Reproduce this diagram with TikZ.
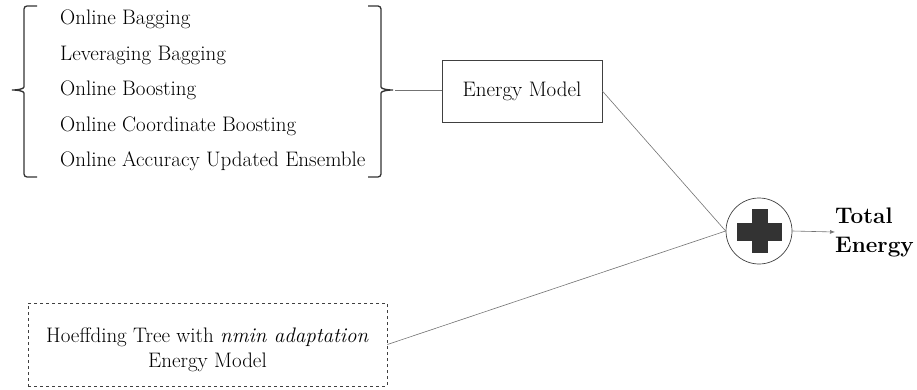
\documentclass[tikz,border=0pt]{standalone}
\usetikzlibrary{arrows.meta}
\begin{document}
\begin{tikzpicture}[x=1pt,y=-1pt,
  txt/.style={font=\fontsize{21}{25}\selectfont, inner sep=0pt, anchor=base west},
  conn/.style={draw=black!55, line width=0.6pt},
  bracestyle/.style={draw=black!80, line width=1.3pt, rounded corners=3pt}]
\useasboundingbox (0,0) rectangle (917,390);
% list items
\node[txt] (i1) at (60,25) {Online Bagging};
\node[txt] (i2) at (60,61) {Leveraging Bagging};
\node[txt] (i3) at (60,96) {Online Boosting};
\node[txt] (i4) at (60,132) {Online Coordinate Boosting};
\node[txt] (i5) at (60,167) {Online Accuracy Updated Ensemble};
% braces
\draw[bracestyle] (37,6) -- (24,6) -- (24,84) .. controls (24,89) and (17,90) .. (10,90)
  .. controls (17,90) and (24,91) .. (24,96) -- (24,177) -- (37,177);
\draw[bracestyle] (368,6) -- (381,6) -- (381,84) .. controls (381,89) and (388,90) .. (395,90)
  .. controls (388,90) and (381,91) .. (381,96) -- (381,177) -- (368,177);
\coordinate (rb) at (395,90);
% energy model box
\node[draw=black!75, line width=0.7pt, minimum width=160pt, minimum height=62pt,
  font=\fontsize{21}{25}\selectfont, inner sep=0pt] (em) at (522,91) {Energy Model};
% sum circle
\node[draw=black!75, line width=0.7pt, circle, minimum size=66pt, inner sep=0pt] (sum) at (759,231) {};
\fill[black!80] (sum.center) ++(-7,-22) rectangle ++(16,44);
\fill[black!80] (sum.center) ++(-22,-8) rectangle ++(45,18);
% total energy
\node[font=\fontsize{22.5}{29}\selectfont\bfseries, align=left, inner sep=0pt, anchor=west] (tot) at (835,232) {Total\\Energy};
% hoeffding box
\node[draw=black!75, dashed, line width=0.7pt, minimum width=359pt, minimum height=83pt,
  inner sep=0pt] (ht) at (207.5,344.5) {};
\node[font=\fontsize{21}{25}\selectfont, align=center, inner sep=0pt] (htt) at (207.5,350)
  {Hoeffding Tree with \textit{nmin adaptation}\\Energy Model};
% connectors
\draw[conn] (rb) -- (rb -| em.west);
\draw[conn] (em.east) -- (sum.west);
\draw[conn] (ht.east) -- (sum.west);
\draw[conn, -{Latex[length=5pt,width=4pt]}] (sum.east) -- (tot.west);
\end{tikzpicture}
\end{document}
